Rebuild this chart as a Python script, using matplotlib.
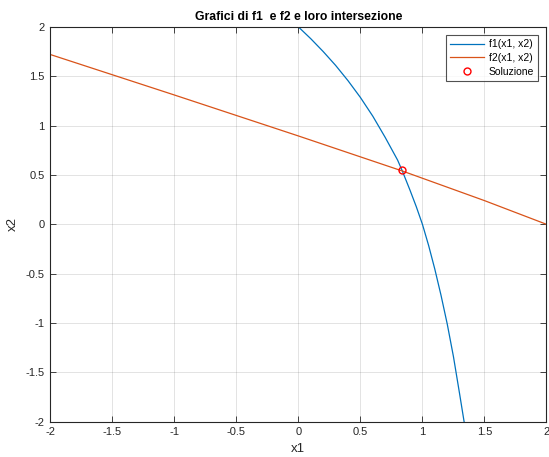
import matplotlib
matplotlib.use("Agg")
import matplotlib.pyplot as plt

# f1 curve, points
f1_x1 = [0.0, 0.1, 0.2, 0.3, 0.4, 0.5, 0.6, 0.7, 0.8, 0.838, 0.9, 0.95, 1.0, 1.05, 1.1, 1.15, 1.2, 1.25, 1.3, 1.336]
f1_x2 = [2.0, 1.88, 1.75, 1.61, 1.455, 1.285, 1.095, 0.88, 0.65, 0.54, 0.345, 0.18, 0.0, -0.215, -0.455, -0.72, -1.01, -1.34, -1.72, -2.0]

# f2 line, points
f2_x1 = [-2.0, -1.0, 0.0, 0.838, 1.5, 2.0]
f2_x2 = [1.72, 1.31, 0.895, 0.54, 0.24, 0.0]

# solution
sol_x1 = [0.838]
sol_x2 = [0.545]

ticks = [-2, -1.5, -1, -0.5, 0, 0.5, 1, 1.5, 2]
tick_labels = ["-2", "-1.5", "-1", "-0.5", "0", "0.5", "1", "1.5", "2"]

plt.rcParams['font.family'] = ['Liberation Sans', 'DejaVu Sans']

fig = plt.figure(figsize=(5.49, 4.57), dpi=100)
ax = fig.add_axes([0.0916, 0.0772, 0.9038, 0.864])

ax.plot(f1_x1, f1_x2, color='#0072BD', lw=0.9, label='f1(x1, x2)')
ax.plot(f2_x1, f2_x2, color='#D95319', lw=0.9, label='f2(x1, x2)')
ax.plot(sol_x1, sol_x2, 'o', mfc='none', mec='#FF0000', ms=5, mew=1.0, label='Soluzione')

ax.set_xlim(-2, 2)
ax.set_ylim(-2, 2)
ax.set_xticks(ticks)
ax.set_xticklabels(tick_labels)
ax.set_yticks(ticks)
ax.set_yticklabels(tick_labels)
ax.grid(True, color='#262626', alpha=0.15, lw=0.6)
ax.tick_params(direction='in', top=True, right=True, length=4, width=0.6,
               labelsize=8, colors='#262626', pad=4)
for s in ax.spines.values():
    s.set_color('#262626')
    s.set_linewidth(0.8)

ax.set_xlabel('x1', fontsize=9.5, color='#262626', labelpad=4)
ax.set_ylabel('x2', fontsize=9.5, color='#262626', labelpad=5)
ax.set_title('Grafici di f1  e f2 e loro intersezione', fontsize=8.8, fontweight='bold', pad=5)

leg = ax.legend(loc='upper right', fontsize=7.5, frameon=True, fancybox=False,
                edgecolor='#262626', borderpad=0.4, handlelength=3.3,
                labelspacing=0.35, handletextpad=0.4, borderaxespad=0.8)
leg.get_frame().set_linewidth(0.8)

fig.savefig('out.png', dpi=100)
